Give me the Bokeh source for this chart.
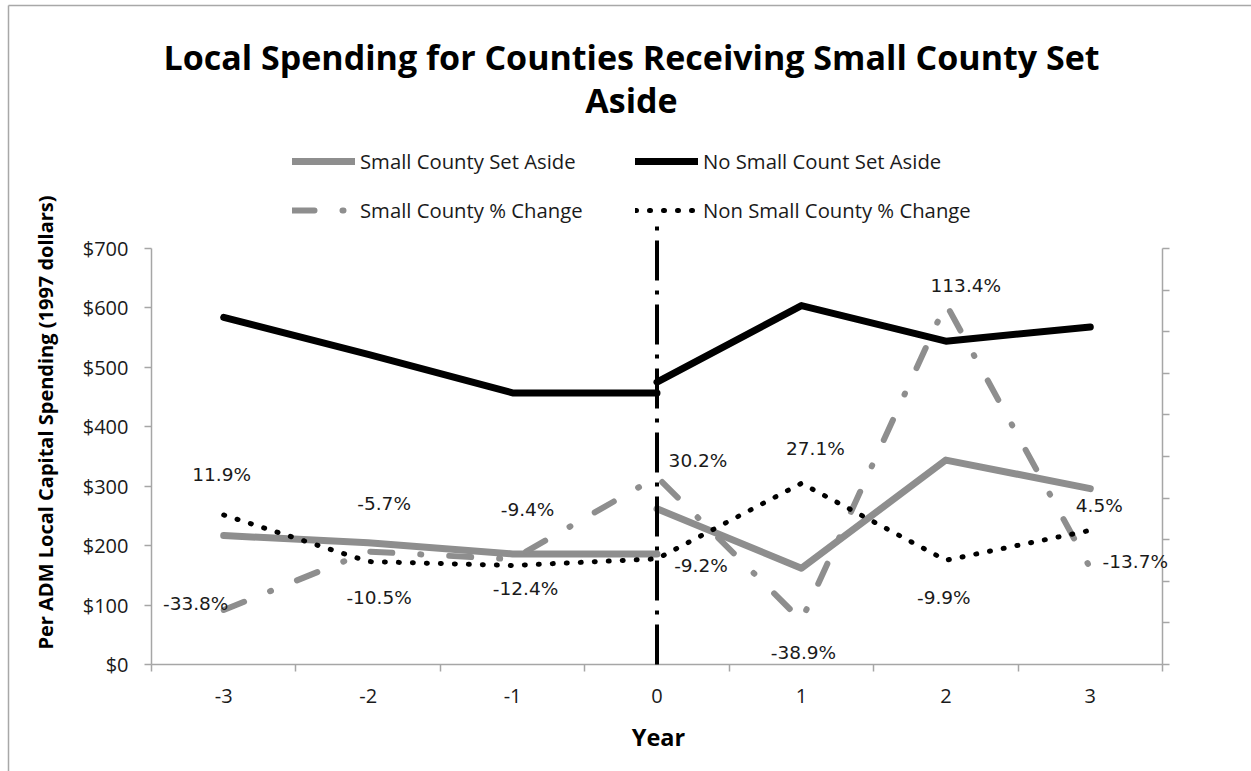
from math import pi

from bokeh.core.properties import value
from bokeh.embed import file_html
from bokeh.models import (Arrow, ColumnDataSource, FixedTicker, LabelSet, Label,
                          Legend, LegendItem, LinearAxis, NumeralTickFormatter, Range1d)
from bokeh.plotting import figure
from bokeh.resources import INLINE

# ---- data -------------------------------------------------------------
years = [-3, -2, -1, 0, 1, 2, 3]
pre_years = [-3, -2, -1, 0]
post_years = [0, 1, 2, 3]

# per-ADM local capital spending, 1997 dollars
small_pre = [217, 205, 186, 186]
small_post = [262, 162, 344, 296]
nonsmall_pre = [584, 522, 457, 457]
nonsmall_post = [475, 604, 544, 568]

# year-over-year percent change (secondary axis)
small_pct = [-33.8, -5.7, -9.4, 30.2, -38.9, 113.4, -13.7]
nonsmall_pct = [11.9, -10.5, -12.4, -9.2, 27.1, -9.9, 4.5]

dollar_ticks = [0, 100, 200, 300, 400, 500, 600, 700]
pct_ticks = [-60, -40, -20, 0, 20, 40, 60, 80, 100, 120, 140]
event_year = 0

# label placement (screen px relative to each point; +dy is up)
small_dx = [-28, 16, 15, 41, 2, 20, 45]
small_dy = [7, 48, 50, 16, -32, 18, 7]
nonsmall_dx = [-2, 11, 13, 44, 14, -2, 9]
nonsmall_dy = [40, -36, -23, -7, 35, -37, 25]

GRAY = "#8e8e8e"
AXIS = "#a6a6a6"
SANS = "Open Sans"

# ---- layout: the plotting frame fills the canvas; the axes sit at fixed
# locations so that titles, legend and axis names can live inside it ------
W, H = 1251, 771
PX_L, PX_R, PX_T, PX_B = 151, 1162, 248, 664      # plot-area box on the canvas
X0, X1 = years[0] - 0.5, years[-1] + 0.5
D0, D1 = dollar_ticks[0], dollar_ticks[-1]
P0, P1 = pct_ticks[0], pct_ticks[-1]

def extend(lo, hi, a, b, lo_px, hi_px):
    """Range covering pixels a..b when lo..hi maps onto lo_px..hi_px."""
    k = (hi - lo) / (hi_px - lo_px)
    return lo - (lo_px - a) * k, hi + (b - hi_px) * k

xr = extend(X0, X1, 0, W, PX_L, PX_R)
yr = extend(D0, D1, 0, H, H - PX_B, H - PX_T)
pr = extend(P0, P1, 0, H, H - PX_B, H - PX_T)

p = figure(width=W, height=H, output_backend="svg", toolbar_location=None,
           x_range=Range1d(*xr), y_range=Range1d(*yr),
           min_border_left=0, min_border_right=0, min_border_top=0, min_border_bottom=0)
p.title = None
p.extra_y_ranges = {"pct": Range1d(*pr)}
p.grid.visible = False
p.outline_line_color = None
p.background_fill_color = "white"
p.border_fill_color = "white"

# left dollar axis
ya = p.yaxis[0]
ya.fixed_location = X0
ya.bounds = (D0, D1)
ya.ticker = FixedTicker(ticks=dollar_ticks)
ya.formatter = NumeralTickFormatter(format="$0")
ya.axis_line_color = AXIS
ya.axis_line_width = 1.5
ya.major_tick_line_color = AXIS
ya.major_tick_line_width = 1.5
ya.major_tick_out = 7
ya.major_tick_in = 0
ya.minor_tick_line_color = None
ya.major_label_text_font = SANS
ya.major_label_text_font_size = "20px"
ya.major_label_text_color = "#1a1a1a"
ya.major_label_standoff = 16

# bottom year axis: labels at years, tick marks between categories
xa = p.xaxis[0]
xa.fixed_location = D0
xa.bounds = (X0, X1)
xa.ticker = FixedTicker(ticks=years,
                        minor_ticks=[y - 0.5 for y in years] + [years[-1] + 0.5])
xa.major_label_overrides = {y: str(y) for y in years}
xa.axis_line_color = AXIS
xa.axis_line_width = 1.5
xa.major_tick_line_color = None
xa.major_tick_out = 0
xa.major_tick_in = 0
xa.minor_tick_line_color = AXIS
xa.minor_tick_line_width = 1.5
xa.minor_tick_out = 7
xa.minor_tick_in = 0
xa.major_label_text_font = SANS
xa.major_label_text_font_size = "20px"
xa.major_label_text_color = "#1a1a1a"
xa.major_label_standoff = 17

# right percent axis, ticks only
ra = LinearAxis(y_range_name="pct", ticker=FixedTicker(ticks=pct_ticks),
                major_label_overrides={t: "" for t in pct_ticks})
ra.fixed_location = X1
ra.bounds = (P0, P1)
ra.axis_line_color = AXIS
ra.axis_line_width = 1.5
ra.major_tick_line_color = AXIS
ra.major_tick_line_width = 1.5
ra.major_tick_out = 7
ra.major_tick_in = 0
ra.minor_tick_line_color = None
p.add_layout(ra, "right")

# event-year marker (runs a little above the plot area)
p.add_layout(Arrow(end=None, x_start=event_year, y_start=D0, x_end=event_year, y_end=742,
                   line_color="black", line_width=4, line_dash="40 10 4 10"))

# spending lines
r_s1 = p.line(pre_years, small_pre, line_color=GRAY, line_width=7,
              line_cap="round", line_join="round")
r_s2 = p.line(post_years, small_post, line_color=GRAY, line_width=7,
              line_cap="round", line_join="round")
r_n1 = p.line(pre_years, nonsmall_pre, line_color="black", line_width=7,
              line_cap="round", line_join="round")
r_n2 = p.line(post_years, nonsmall_post, line_color="black", line_width=7,
              line_cap="round", line_join="round")

# percent-change lines
r_sp = p.line(years, small_pct, y_range_name="pct", line_color=GRAY, line_width=6,
              line_dash="22 28 1 28", line_cap="round", line_join="round")
r_np = p.line(years, nonsmall_pct, y_range_name="pct", line_color="black", line_width=5,
              line_dash="1 13", line_cap="round", line_join="round")

# percent labels
for vals, dx, dy in ((small_pct, small_dx, small_dy), (nonsmall_pct, nonsmall_dx, nonsmall_dy)):
    src = ColumnDataSource(dict(x=years, y=vals, txt=[f"{v:.1f}%" for v in vals],
                                dx=dx, dy=dy))
    p.add_layout(LabelSet(x="x", y="y", text="txt", source=src, y_range_name="pct",
                          x_offset="dx", y_offset="dy", text_align="center",
                          text_baseline="middle", text_font=value("DejaVu Sans"),
                          text_font_size="18.5px", text_color="#1a1a1a"))

# two-column legend (columns fill top to bottom)
legend = Legend(items=[
    LegendItem(label="Small County Set Aside", renderers=[r_s1, r_s2]),
    LegendItem(label="Small County % Change", renderers=[r_sp]),
    LegendItem(label="No Small Count Set Aside", renderers=[r_n1, r_n2]),
    LegendItem(label="Non Small County % Change", renderers=[r_np]),
], ncols=2, location=(292, H - 224), glyph_width=63, glyph_height=22, label_height=22,
    label_width=254, label_standoff=5, spacing=21, padding=0, margin=0,
    border_line_color=None, background_fill_alpha=0,
    label_text_font=SANS, label_text_font_size="20.3px", label_text_color="#1a1a1a")
p.add_layout(legend)

# titles and axis names (canvas pixel positions)
def screen_label(text, cx, cy, size, angle=0.0, baseline="middle"):
    return Label(x=cx, y=H - cy, x_units="screen", y_units="screen",
                 text=text, text_align="center", text_baseline=baseline, angle=angle,
                 text_font=SANS, text_font_style="bold", text_font_size=size,
                 text_color="black")

p.add_layout(screen_label("Local Spending for Counties Receiving Small County Set",
                          631, 56, "34px", baseline="alphabetic"))
p.add_layout(screen_label("Aside", 631, 99, "34px", baseline="alphabetic"))
p.add_layout(screen_label("Per ADM Local Capital Spending (1997 dollars)", 45, 422, "20px", pi / 2))
p.add_layout(screen_label("Year", 658, 736, "23.5px"))

# chart frame edges
for xs, ys, xe, ye in ((8, 5, W, 5), (8, 5, 8, H)):
    p.add_layout(Arrow(end=None, x_start=xs, y_start=ys, x_end=xe, y_end=ye,
                       start_units="canvas", end_units="canvas",
                       line_color="#a8a8a8", line_width=1.5))

open("out.html", "w").write(file_html(p, INLINE))
